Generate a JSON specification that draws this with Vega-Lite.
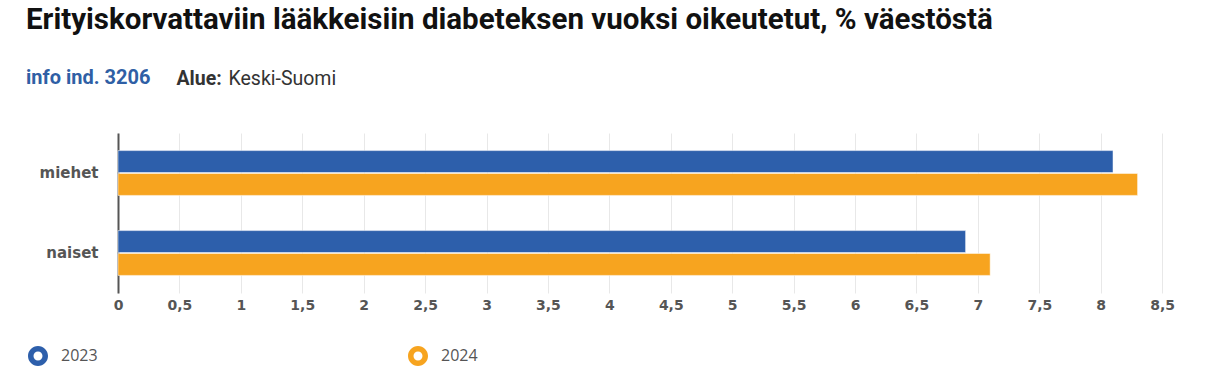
{
  "$schema": "https://vega.github.io/schema/vega-lite/v6.json",
  "autosize": {"type": "none"},
  "padding": {"left": 118, "top": 133, "right": 17, "bottom": 95},
  "width": 1081,
  "height": 160,
  "background": "white",
  "config": {"view": {"stroke": null}},
  "title": {
    "text": "Erityiskorvattaviin lääkkeisiin diabeteksen vuoksi oikeutetut, % väestöstä",
    "subtitle": "info ind. 3206",
    "anchor": "start",
    "frame": "group",
    "dx": -92,
    "offset": -21,
    "font": "Roboto",
    "fontSize": 29.5,
    "fontWeight": "bold",
    "color": "#111111",
    "subtitleFont": "Roboto",
    "subtitleFontSize": 20,
    "subtitleFontWeight": "bold",
    "subtitleColor": "#2f5fa5",
    "subtitlePadding": 33
  },
  "data": {
    "values": [
      {"sukupuoli": "miehet", "vuosi": "2023", "arvo": 8.1},
      {"sukupuoli": "miehet", "vuosi": "2024", "arvo": 8.3},
      {"sukupuoli": "naiset", "vuosi": "2023", "arvo": 6.9},
      {"sukupuoli": "naiset", "vuosi": "2024", "arvo": 7.1}
    ]
  },
  "mark": {"type": "bar", "stroke": "white", "strokeWidth": 0.5},
  "encoding": {
    "y": {
      "field": "sukupuoli",
      "type": "nominal",
      "sort": ["miehet", "naiset"],
      "scale": {"paddingInner": 0.44, "paddingOuter": 0.22},
      "axis": {
        "title": "Alue:",
        "titleAngle": 0,
        "titleX": 58,
        "titleY": -49,
        "titleAlign": "left",
        "titleBaseline": "alphabetic",
        "titleFont": "Roboto",
        "titleFontSize": 19.5,
        "titleFontWeight": "bold",
        "titleColor": "#333333",
        "domain": true,
        "domainColor": "#555555",
        "domainWidth": 2,
        "ticks": false,
        "labelPadding": 20,
        "labelFont": "DejaVu Sans",
        "labelFontSize": 15,
        "labelFontWeight": "bold",
        "labelColor": "#555555",
        "grid": false
      }
    },
    "yOffset": {
      "field": "vuosi",
      "type": "nominal",
      "scale": {"paddingInner": 0.04}
    },
    "x": {
      "field": "arvo",
      "type": "quantitative",
      "scale": {"domain": [0, 8.8], "nice": false},
      "axis": {
        "title": "Keski-Suomi",
        "titleX": 110,
        "titleY": -209,
        "titleAlign": "left",
        "titleBaseline": "alphabetic",
        "titleFont": "Roboto",
        "titleFontSize": 19.5,
        "titleFontWeight": "normal",
        "titleColor": "#333333",
        "values": [0, 0.5, 1, 1.5, 2, 2.5, 3, 3.5, 4, 4.5, 5, 5.5, 6, 6.5, 7, 7.5, 8, 8.5],
        "labelExpr": "replace(toString(datum.value), '.', ',')",
        "labelFlush": false,
        "domain": false,
        "ticks": false,
        "grid": true,
        "gridColor": "#e8e8e8",
        "gridWidth": 1,
        "labelPadding": 5,
        "labelFont": "DejaVu Sans",
        "labelFontSize": 14,
        "labelFontWeight": "bold",
        "labelColor": "#555555"
      }
    },
    "color": {
      "field": "vuosi",
      "type": "nominal",
      "scale": {"domain": ["2023", "2024"], "range": ["#2d5fab", "#f7a41f"]},
      "legend": {
        "orient": "none",
        "legendX": -90,
        "legendY": 213,
        "direction": "horizontal",
        "title": null,
        "symbolType": "M-1,0A1,1,0,1,1,1,0A1,1,0,1,1,-1,0ZM-0.45,0A0.45,0.45,0,1,0,0.45,0A0.45,0.45,0,1,0,-0.45,0Z",
        "symbolSize": 400,
        "symbolStrokeWidth": 0,
        "labelFont": "Open Sans",
        "labelFontSize": 16,
        "labelColor": "#555555",
        "labelOffset": 13,
        "columnPadding": 310
      }
    }
  }
}
